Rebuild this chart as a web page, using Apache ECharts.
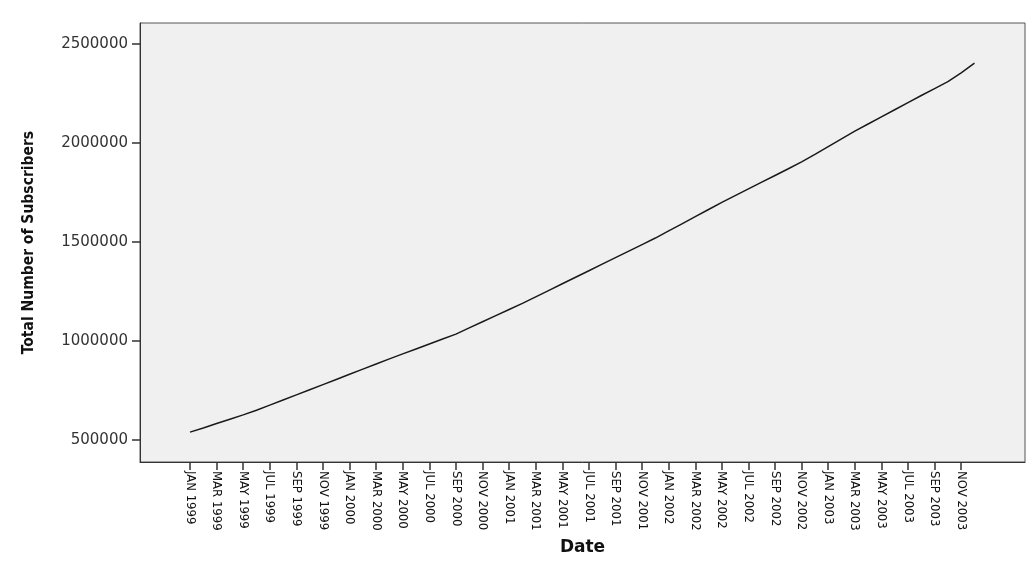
<!DOCTYPE html>
<html>
<head>
<meta charset="utf-8">
<script src="https://cdn.jsdelivr.net/npm/echarts@6/dist/echarts.min.js"></script>
<style>html,body{margin:0;padding:0;background:#fff}#c{width:1036px;height:561px}</style>
</head>
<body>
<div id="c"></div>
<script>
// Monthly categories JAN 1999 .. DEC 2003
var monthNames = ['JAN','FEB','MAR','APR','MAY','JUN','JUL','AUG','SEP','OCT','NOV','DEC'];
var years = [1999, 2000, 2001, 2002, 2003];
var categories = [];
years.forEach(function (y) { monthNames.forEach(function (m) { categories.push(m + ' ' + y); }); });

// Total Number of Subscribers
var subscribers = [
  540000, 561000, 583000, 605000, 627000, 650000, 676000, 702000, 728000, 754000, 780000, 806000,
  832000, 858000, 884000, 910000, 935000, 960000, 985000, 1010000, 1035000, 1066000, 1097000, 1128000,
  1159000, 1190000, 1223000, 1256000, 1289000, 1322000, 1355000, 1388000, 1421000, 1454000, 1487000, 1520000,
  1556000, 1592000, 1628000, 1664000, 1700000, 1734000, 1768000, 1802000, 1836000, 1870000, 1905000, 1943000,
  1982000, 2021000, 2060000, 2096000, 2132000, 2168000, 2204000, 2240000, 2275000, 2310000, 2354000, 2403000
];

// Tick labels
var xTickLabels = ['JAN 1999','MAR 1999','MAY 1999','JUL 1999','SEP 1999','NOV 1999',
  'JAN 2000','MAR 2000','MAY 2000','JUL 2000','SEP 2000','NOV 2000',
  'JAN 2001','MAR 2001','MAY 2001','JUL 2001','SEP 2001','NOV 2001',
  'JAN 2002','MAR 2002','MAY 2002','JUL 2002','SEP 2002','NOV 2002',
  'JAN 2003','MAR 2003','MAY 2003','JUL 2003','SEP 2003','NOV 2003'];
var yTickValues = [500000, 1000000, 1500000, 2000000, 2500000];

var xTickIdx = xTickLabels.map(function (l) { return categories.indexOf(l); });
var seriesData = subscribers.map(function (v, i) { return [i, v]; });

var condensed = "'DejaVu Sans Condensed', 'Roboto Condensed', 'Liberation Sans', sans-serif";

var chart = echarts.init(document.getElementById('c'), null, { renderer: 'canvas' });
chart.setOption({
  animation: false,
  grid: {
    left: 140, right: 11, top: 23, bottom: 98,
    show: true, backgroundColor: '#F0F0F0', borderColor: '#555', borderWidth: 1
  },
  xAxis: {
    type: 'value',
    min: -3.76, max: 62.8,
    name: 'Date', nameLocation: 'middle', nameGap: 77,
    nameTextStyle: { fontFamily: 'DejaVu Sans', fontWeight: 'bold', fontSize: 17, color: '#111' },
    axisLine: { show: true, onZero: false, lineStyle: { color: '#333', width: 1 } },
    axisTick: { show: true, inside: false, length: 8, customValues: xTickIdx, lineStyle: { color: '#333', width: 1.5 } },
    axisLabel: {
      customValues: xTickIdx, rotate: -90, margin: 9,
      fontFamily: condensed, fontSize: 13, color: '#111',
      formatter: function (v) { return categories[Math.round(v)] || ''; }
    },
    splitLine: { show: false }
  },
  yAxis: {
    type: 'value',
    min: 389000, max: 2606000,
    name: 'Total Number of Subscribers', nameLocation: 'middle', nameGap: 103, nameRotate: 90,
    nameTextStyle: { fontFamily: condensed, fontWeight: 'bold', fontSize: 15.5, color: '#111' },
    axisLine: { show: true, onZero: false, lineStyle: { color: '#333', width: 1 } },
    axisTick: { show: true, inside: false, length: 8, customValues: yTickValues, lineStyle: { color: '#333', width: 1.5 } },
    axisLabel: {
      customValues: yTickValues, margin: 12,
      fontFamily: 'DejaVu Sans', fontSize: 15, color: '#333',
      formatter: function (v) { return String(v); }
    },
    splitLine: { show: false }
  },
  series: [{
    type: 'line',
    data: seriesData,
    showSymbol: false,
    symbol: 'none',
    lineStyle: { color: '#1a1a1a', width: 1.5 }
  }]
});
</script>
</body>
</html>
